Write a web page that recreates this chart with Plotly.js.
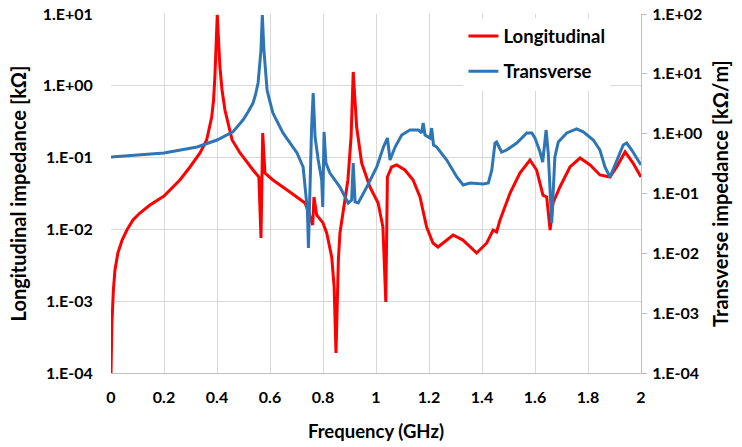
<!DOCTYPE html>
<html><head><meta charset="utf-8">
<script src="https://cdn.plot.ly/plotly-3.0.1.min.js"></script>
<style>html,body{margin:0;padding:0;background:#fff}</style>
</head><body><div id="chart" style="width:742px;height:447px"></div>
<script>
// Longitudinal impedance [kOhm] (left axis)
const longFreq = [0, 0.0015, 0.0035, 0.009, 0.015, 0.026, 0.042, 0.06, 0.083, 0.109, 0.147, 0.2, 0.26, 0.298, 0.336, 0.361, 0.38, 0.387, 0.392, 0.401, 0.411, 0.419, 0.43, 0.457, 0.487, 0.536, 0.558, 0.566, 0.5725, 0.581, 0.611, 0.675, 0.732, 0.743, 0.761, 0.766, 0.776, 0.8, 0.814, 0.833, 0.842, 0.849, 0.858, 0.864, 0.875, 0.894, 0.906, 0.914, 0.927, 0.946, 0.977, 1.008, 1.026, 1.037, 1.043, 1.059, 1.078, 1.109, 1.14, 1.166, 1.191, 1.215, 1.234, 1.291, 1.328, 1.38, 1.418, 1.442, 1.455, 1.468, 1.506, 1.543, 1.581, 1.606, 1.63, 1.644, 1.657, 1.668, 1.694, 1.732, 1.77, 1.808, 1.845, 1.883, 1.908, 1.94, 1.97, 2.0];
const longImp = [1e-4, 3e-4, 5e-4, 1.43e-3, 2.72e-3, 4.7e-3, 7.1e-3, 9.8e-3, 0.0135, 0.0169, 0.0219, 0.0292, 0.0488, 0.074, 0.116, 0.176, 0.367, 0.634, 1.33, 9.7, 1.83, 0.875, 0.46, 0.176, 0.116, 0.0672, 0.0537, 0.0076, 0.22, 0.061, 0.0488, 0.0332, 0.0233, 0.0186, 0.0115, 0.0283, 0.0159, 0.0123, 0.0089, 0.0041, 0.00158, 1.9e-4, 0.00375, 0.0089, 0.0169, 0.0488, 0.194, 1.56, 0.267, 0.084, 0.039, 0.0233, 0.0108, 9.75e-4, 0.0537, 0.074, 0.079, 0.0672, 0.0488, 0.0283, 0.0108, 0.00647, 0.00569, 0.00836, 0.0071, 0.00469, 0.00647, 0.0098, 0.0092, 0.0135, 0.0321, 0.061, 0.0927, 0.0672, 0.030, 0.0283, 0.0098, 0.0233, 0.039, 0.074, 0.0987, 0.079, 0.0573, 0.0537, 0.074, 0.12, 0.084, 0.0537];

// Transverse impedance [kOhm/m] (right axis)
const transFreq = [0, 0.2, 0.325, 0.4, 0.46, 0.498, 0.517, 0.536, 0.545, 0.555, 0.566, 0.571, 0.577, 0.589, 0.598, 0.611, 0.649, 0.702, 0.725, 0.732, 0.741, 0.745, 0.751, 0.757, 0.763, 0.77, 0.782, 0.795, 0.799, 0.804, 0.811, 0.826, 0.864, 0.895, 0.908, 0.914, 0.921, 0.933, 0.965, 1.003, 1.028, 1.043, 1.053, 1.072, 1.097, 1.128, 1.16, 1.172, 1.178, 1.185, 1.204, 1.21, 1.217, 1.229, 1.267, 1.305, 1.329, 1.355, 1.405, 1.424, 1.437, 1.449, 1.455, 1.474, 1.493, 1.531, 1.569, 1.588, 1.6, 1.619, 1.629, 1.642, 1.65, 1.663, 1.675, 1.688, 1.72, 1.757, 1.782, 1.82, 1.845, 1.864, 1.883, 1.908, 1.933, 1.946, 1.965, 2.0];
const transImp = [0.407, 0.475, 0.598, 0.783, 1.07, 1.69, 2.3, 3.25, 4.43, 7.03, 25, 96, 25, 5.37, 3.66, 2.21, 1.03, 0.475, 0.277, 0.15, 0.053, 0.0123, 0.189, 1.29, 4.78, 0.88, 0.363, 0.168, 0.0594, 1.07, 0.323, 0.22, 0.128, 0.0693, 0.0778, 0.323, 0.0721, 0.0693, 0.128, 0.277, 0.598, 0.845, 0.363, 0.598, 0.95, 1.15, 1.15, 1.03, 1.51, 0.95, 0.845, 1.24, 0.646, 0.598, 0.363, 0.189, 0.139, 0.15, 0.144, 0.15, 0.247, 0.698, 0.726, 0.493, 0.533, 0.698, 1.03, 1.03, 0.845, 0.493, 0.336, 1.15, 0.475, 0.0321, 0.407, 0.726, 1.03, 1.2, 1.07, 0.783, 0.533, 0.277, 0.189, 0.363, 0.646, 0.698, 0.533, 0.299];

const xTickVals = [0, 0.2, 0.4, 0.6, 0.8, 1, 1.2, 1.4, 1.6, 1.8, 2];
const xTickText = ['0', '0.2', '0.4', '0.6', '0.8', '1', '1.2', '1.4', '1.6', '1.8', '2'];
const leftTickVals = [1e-4, 1e-3, 1e-2, 1e-1, 1, 10];
const leftTickText = ['1.E-04', '1.E-03', '1.E-02', '1.E-01', '1.E+00', '1.E+01'];
const rightTickVals = [1e-4, 1e-3, 1e-2, 1e-1, 1, 10, 100];
const rightTickText = ['1.E-04', '1.E-03', '1.E-02', '1.E-01', '1.E+00', '1.E+01', '1.E+02'];

const FONT = 'Lato, "Open Sans", sans-serif';
const tickFont = {family: FONT, size: 16, color: '#000', weight: 'bold'};
const yTitleFont = {family: FONT, size: 20, color: '#000', weight: 'bold'};
const xTitleFont = {family: FONT, size: 18.5, color: '#000', weight: 'bold'};

const traces = [
  {x: longFreq, y: longImp, name: 'Longitudinal', type: 'scatter', mode: 'lines',
   line: {color: '#FF0000', width: 3}, yaxis: 'y', legendgroup: 'a'},
  {x: transFreq, y: transImp, name: 'Transverse', type: 'scatter', mode: 'lines',
   line: {color: '#2E75B6', width: 3}, yaxis: 'y2', legendgroup: 'b'}
];

const layout = {
  width: 742, height: 447,
  margin: {l: 111, r: 101, t: 14, b: 74},
  paper_bgcolor: '#fff', plot_bgcolor: '#fff',
  showlegend: true,
  legend: {x: 0.665, y: 0.99, xanchor: 'left', yanchor: 'top', bgcolor: '#fff',
           font: {family: FONT, size: 18.5, color: '#000', weight: 'bold'},
           traceorder: 'grouped', tracegroupgap: 8},
  xaxis: {range: [0, 2], tickvals: xTickVals, ticktext: xTickText, tickfont: tickFont,
          showgrid: true, gridcolor: '#d9d9d9', gridwidth: 1, zeroline: false,
          showline: true, linecolor: '#bfbfbf', linewidth: 1,
          ticks: 'outside', ticklen: 10, tickcolor: 'rgba(0,0,0,0)',
          title: {text: 'Frequency (GHz)', font: xTitleFont, standoff: 19}, automargin: false},
  yaxis: {type: 'log', range: [-4, 1], tickvals: leftTickVals, ticktext: leftTickText,
          tickfont: tickFont, showgrid: true, gridcolor: '#d9d9d9', gridwidth: 1,
          zeroline: false, showline: false,
          ticks: 'outside', ticklen: 14, tickcolor: 'rgba(0,0,0,0)',
          title: {text: 'Longitudinal impedance [kΩ]', font: yTitleFont, standoff: 10}, automargin: false},
  yaxis2: {type: 'log', range: [-4, 2], overlaying: 'y', side: 'right',
           tickvals: rightTickVals, ticktext: rightTickText, tickfont: tickFont,
           showgrid: false, zeroline: false, showline: true, linecolor: '#bfbfbf', linewidth: 1,
           ticks: 'outside', ticklen: 5, tickcolor: '#bfbfbf', ticklabelstandoff: 2,
           title: {text: 'Transverse impedance [kΩ/m]', font: yTitleFont, standoff: 12}, automargin: false}
};

Plotly.newPlot('chart', traces, layout, {staticPlot: true, displayModeBar: false});
</script>
</body></html>
